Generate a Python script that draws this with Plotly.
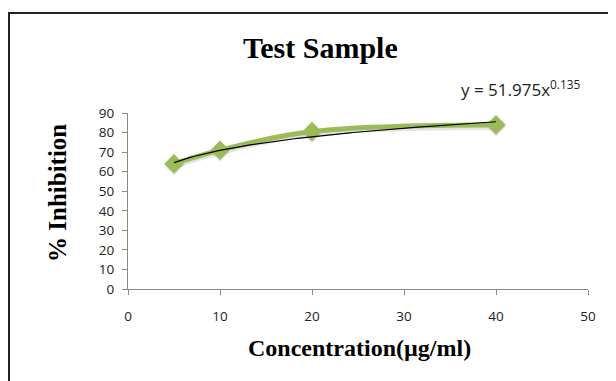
import numpy as np
import plotly.graph_objects as go

conc = [5, 10, 20, 40]
inhibition = [64, 71, 80.5, 84]
fit_a = 51.975
fit_b = 0.135
x_ticks = [0, 10, 20, 30, 40, 50]
y_ticks = [0, 10, 20, 30, 40, 50, 60, 70, 80, 90]

OFF = 8  # page body margin
W, H = 616 - OFF, 381 - OFF
L, R, T, B = 128 - OFF, 28, 113 - OFF, 92
pw, ph = W - L - R, H - T - B

def px(xp):
    return (xp - OFF - L) / pw

def py(yp):
    return (H - B - (yp - OFF)) / ph

fig = go.Figure()
fig.add_trace(go.Scatter(
    x=conc, y=[v - 1.0 for v in inhibition], mode="lines+markers",
    line=dict(color="rgba(120,120,120,0.2)", width=6, shape="spline"),
    marker=dict(symbol="diamond", size=15, color="rgba(120,120,120,0.2)"),
    hoverinfo="skip", showlegend=False))
fig.add_trace(go.Scatter(
    x=conc, y=inhibition, mode="lines+markers",
    line=dict(color="#9BBB59", width=5, shape="spline"),
    marker=dict(symbol="diamond", size=15, color="#9BBB59"),
    showlegend=False))
xf = np.linspace(conc[0], conc[-1], 100)
fig.add_trace(go.Scatter(
    x=xf, y=fit_a * xf ** fit_b, mode="lines",
    line=dict(color="black", width=1.2), showlegend=False))

axis_common = dict(showgrid=False, zeroline=False, showline=True, linecolor="#888888",
                   linewidth=1, ticks="outside", ticklen=5, tickcolor="#888888",
                   tickfont=dict(family="Open Sans, DejaVu Sans", size=13.5, color="#222"))
fig.update_xaxes(range=[0, 50], tickvals=x_ticks, ticklabelstandoff=10, **axis_common)
fig.update_yaxes(range=[0, 90], tickvals=y_ticks, ticklabelstandoff=5, **axis_common)

def ann(text, xp, yp, size, family, angle=0, color="black"):
    return dict(text=text, x=px(xp), y=py(yp), xref="paper", yref="paper",
                xanchor="center", yanchor="middle", showarrow=False, textangle=angle,
                font=dict(family=family, size=size, color=color))

fig.update_layout(
    width=W, height=H, margin=dict(l=L, r=R, t=T, b=B),
    paper_bgcolor="white", plot_bgcolor="white",
    shapes=[dict(type="rect", xref="paper", yref="paper",
                 x0=px(9), x1=px(630), y0=py(395), y1=py(13),
                 line=dict(color="#222222", width=2))],
    annotations=[
        ann("<b>Test Sample</b>", 320, 48, 30, "Liberation Serif"),
        ann("y = 51.975x<sup>0.135</sup>", 521, 88, 17, "Open Sans, DejaVu Sans", color="#222"),
        ann("<b>Concentration(µg/ml)</b>", 359, 348, 24, "Liberation Serif"),
        ann("<b>% Inhibition</b>", 57, 193, 25, "Liberation Serif", angle=-90),
    ],
)

fig.write_html("out.html")
